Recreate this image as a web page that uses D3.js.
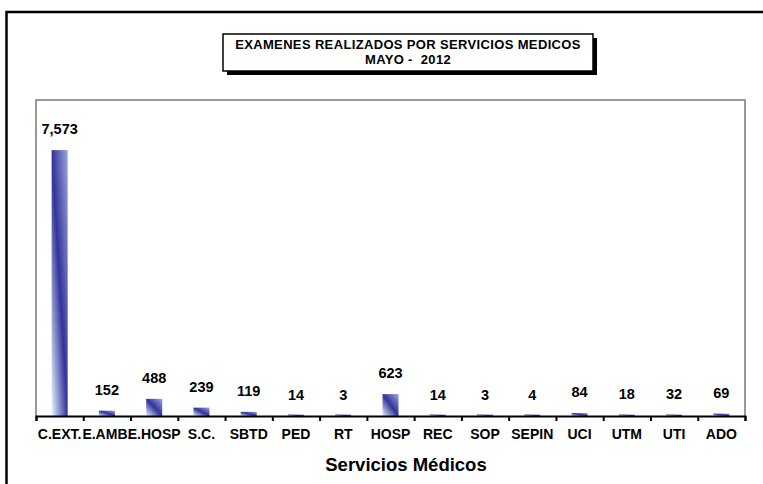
<!DOCTYPE html>
<html><head><meta charset="utf-8">
<script src="https://cdn.jsdelivr.net/npm/d3@7"></script>
<style>body{margin:0;background:#fff}svg{display:block}text{font-family:"Liberation Sans",Arial,sans-serif;font-weight:bold;fill:#000}</style>
</head><body>
<script>
const categories = ["C.EXT.","E.AMB.","E.HOSP","S.C.","SBTD","PED","RT","HOSP","REC","SOP","SEPIN","UCI","UTM","UTI","ADO"];
const values = [7573,152,488,239,119,14,3,623,14,3,4,84,18,32,69];
const titleLines = ["EXAMENES REALIZADOS POR SERVICIOS MEDICOS","MAYO -  2012"];
const xTitle = "Servicios Médicos";
const yMax = 9000;

const W=763,H=484;
const svg=d3.select("body").append("svg").attr("width",W).attr("height",H);
const defs=svg.append("defs");
const g=defs.append("linearGradient").attr("id","bg").attr("x1",0).attr("y1",1).attr("x2",1).attr("y2",0);
g.append("stop").attr("offset",0).attr("stop-color","#e4f8ff");
g.append("stop").attr("offset",0.5).attr("stop-color","#333399");
g.append("stop").attr("offset",1).attr("stop-color","#9aa6dc");

// outer frame
svg.append("path").attr("d","M6.5,484 V12 H763").attr("fill","none").attr("stroke","#000").attr("stroke-width",2.5);

const L=36,R=745,T=100,B=416;
svg.append("path").attr("d",`M${L},${B} V${T} H${R} V${B}`).attr("fill","none").attr("stroke","#999").attr("stroke-width",2);

const x=d3.scaleBand().domain(categories).range([L,R]).paddingInner(0.66).paddingOuter(0.33);
const y=d3.scaleLinear().domain([0,yMax]).range([B,T]);

svg.selectAll("rect.bar").data(values).join("rect").attr("class","bar")
 .attr("x",(d,i)=>x(categories[i])).attr("width",x.bandwidth())
 .attr("y",d=>Math.min(y(d),B-1.5)).attr("height",d=>Math.max(B-y(d),1.5)).attr("fill","url(#bg)");

svg.selectAll("text.val").data(values).join("text").attr("class","val")
 .attr("x",(d,i)=>x(categories[i])+x.bandwidth()/2).attr("y",d=>y(d)-16)
 .attr("text-anchor","middle").attr("font-size",14.5).text(d=>d3.format(",")(d));

const xa=d3.axisBottom(d3.scaleLinear().domain([0,categories.length]).range([L,R]))
 .tickValues(d3.range(categories.length+1)).tickSize(5).tickFormat("");
const ax=svg.append("g").attr("transform",`translate(0,${B})`).call(xa);
ax.select(".domain").attr("stroke","#000").attr("stroke-width",2);
ax.selectAll(".tick line").attr("stroke","#000").attr("stroke-width",2);

svg.selectAll("text.cat").data(categories).join("text").attr("class","cat")
 .attr("x",d=>x(d)+x.bandwidth()/2).attr("y",439).attr("text-anchor","middle").attr("font-size",14).text(d=>d);

svg.append("text").attr("x",406).attr("y",471).attr("text-anchor","middle").attr("font-size",18.5).text(xTitle);

// title box
svg.append("rect").attr("x",227).attr("y",38).attr("width",370).attr("height",37).attr("fill","#000");
svg.append("rect").attr("x",223).attr("y",34).attr("width",370).attr("height",37).attr("fill","#fff").attr("stroke","#000").attr("stroke-width",1.5);
svg.selectAll("text.title").data(titleLines).join("text").attr("class","title")
 .attr("x",408).attr("y",(d,i)=>48.5+i*15).attr("text-anchor","middle").attr("font-size",13)
 .attr("letter-spacing",0.35).style("white-space","pre").text(d=>d);
</script>
</body></html>
